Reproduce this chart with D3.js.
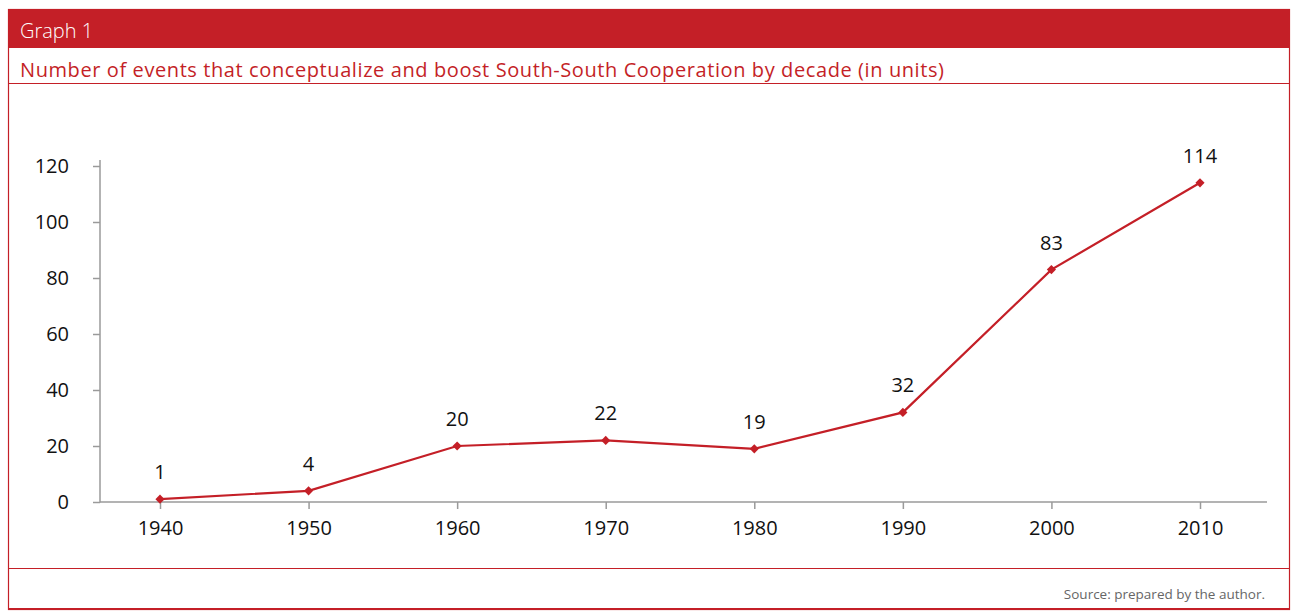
<!DOCTYPE html>
<html><head><meta charset="utf-8">
<script src="https://cdn.jsdelivr.net/npm/d3@7/dist/d3.min.js"></script>
<style>html,body{margin:0;padding:0;background:#fff;}svg{display:block;font-family:"Open Sans",Roboto,sans-serif;}</style>
</head><body>
<svg id="c" width="1294" height="615"></svg>
<script>
const categories = ["1940","1950","1960","1970","1980","1990","2000","2010"];
const values = [1,4,20,22,19,32,83,114];
const yTicks = [0,20,40,60,80,100,120];
const headerText = "Graph 1";
const titleText = "Number of events that conceptualize and boost South-South Cooperation by decade (in units)";
const sourceText = "Source: prepared by the author.";

const RED = "#c41f27";
const svg = d3.select("#c");

// frame
svg.append("rect").attr("x",8.5).attr("y",9.5).attr("width",1281).attr("height",600)
  .attr("fill","none").attr("stroke",RED).attr("stroke-width",1.2);
svg.append("rect").attr("x",8).attr("y",9).attr("width",1282).attr("height",39).attr("fill",RED);
svg.append("line").attr("x1",8).attr("x2",1290).attr("y1",83.5).attr("y2",83.5).attr("stroke",RED).attr("stroke-width",1.2);
svg.append("line").attr("x1",8).attr("x2",1290).attr("y1",568.5).attr("y2",568.5).attr("stroke",RED).attr("stroke-width",1.2);
svg.append("line").attr("x1",8).attr("x2",1290).attr("y1",609).attr("y2",609).attr("stroke",RED).attr("stroke-width",2);

svg.append("text").attr("x",20).attr("y",38).attr("fill","#fff").attr("font-size",20).attr("font-weight",300).text(headerText);
svg.append("text").attr("x",20).attr("y",77).attr("fill",RED).attr("font-size",20)
  .attr("textLength",924).attr("lengthAdjust","spacing").text(titleText);
svg.append("text").attr("x",1265).attr("y",599).attr("text-anchor","end").attr("fill","#666").attr("font-size",13.5).text(sourceText);

const x = d3.scalePoint().domain(categories).range([160,1200]);
const y = d3.scaleLinear().domain([0,120]).range([502,166]);

// y axis
const gy = svg.append("g").attr("transform","translate(100,0)")
  .call(d3.axisLeft(y).tickValues(yTicks).tickSize(7).tickPadding(24));
gy.select(".domain").remove();
gy.append("line").attr("x1",0).attr("x2",0).attr("y1",160).attr("y2",502.5).attr("stroke","#9a9a9a").attr("stroke-width",1.5);
gy.selectAll(".tick line").attr("stroke","#9a9a9a").attr("stroke-width",1.5);
gy.selectAll(".tick text").attr("fill","#111").attr("font-size",20).attr("font-family","'Open Sans',sans-serif");

// x axis
const gx = svg.append("g").attr("transform","translate(0,502)")
  .call(d3.axisBottom(x).tickSize(7).tickPadding(12));
gx.select(".domain").remove();
gx.append("line").attr("x1",100).attr("x2",1267).attr("y1",0).attr("y2",0).attr("stroke","#9a9a9a").attr("stroke-width",1.5);
gx.selectAll(".tick line").attr("stroke","#9a9a9a").attr("stroke-width",1.5);
gx.selectAll(".tick text").attr("fill","#111").attr("font-size",20).attr("font-family","'Open Sans',sans-serif");

const data = categories.map((c,i)=>({c,v:values[i]}));
svg.append("path").datum(data)
  .attr("d", d3.line().x(d=>x(d.c)).y(d=>y(d.v)))
  .attr("fill","none").attr("stroke",RED).attr("stroke-width",2.2);
svg.selectAll(".m").data(data).enter().append("path")
  .attr("transform",d=>`translate(${x(d.c)},${y(d.v)}) rotate(45)`)
  .attr("d", d3.symbol().type(d3.symbolSquare).size(42))
  .attr("fill",RED);
svg.selectAll(".lbl").data(data).enter().append("text")
  .attr("x",d=>x(d.c)).attr("y",d=>y(d.v)-20)
  .attr("text-anchor","middle").attr("fill","#111").attr("font-size",20)
  .text(d=>d.v);
</script>
</body></html>
